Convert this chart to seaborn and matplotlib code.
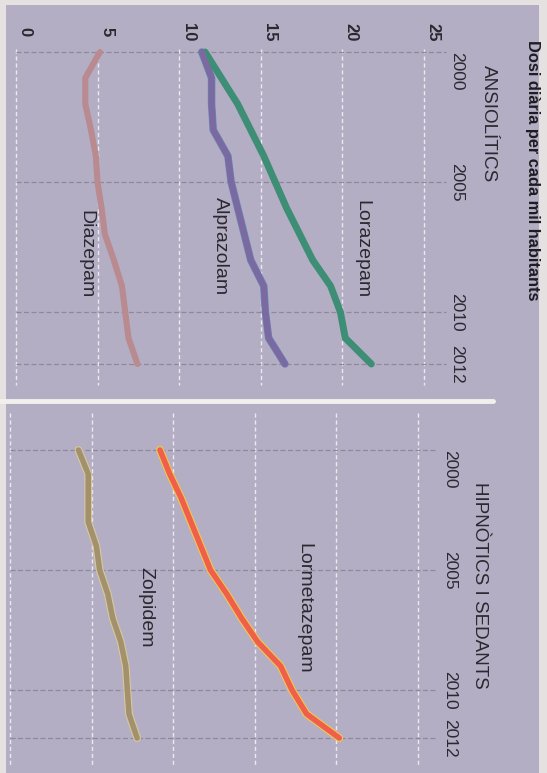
import matplotlib
matplotlib.use("Agg")
import matplotlib.pyplot as plt
import seaborn as sns
import pandas as pd
from matplotlib.patches import Rectangle
from matplotlib.lines import Line2D

# ---------------- data ----------------
years = list(range(2000, 2013))
lorazepam = [11.6, 12.6, 13.6, 14.4, 15.2, 15.9, 16.6, 17.4, 18.2, 19.3, 19.9, 20.2, 21.8]
alprazolam = [11.4, 12.0, 12.0, 12.1, 13.0, 13.2, 13.6, 14.0, 14.4, 15.2, 15.3, 15.5, 16.5]
diazepam = [5.15, 4.25, 4.25, 4.6, 4.9, 5.0, 5.25, 5.45, 6.0, 6.5, 6.7, 6.9, 7.45]
lormetazepam = [9.2, 9.8, 10.5, 11.1, 11.7, 12.3, 13.3, 14.2, 15.2, 16.6, 17.3, 18.2, 20.2]
zolpidem = [4.2, 4.8, 4.8, 4.8, 5.3, 5.5, 6.0, 6.3, 6.8, 7.1, 7.2, 7.3, 7.8]

value_ticks = [0, 5, 10, 15, 20, 25]
value_labels = ["0", "5", "10", "15", "20", "25"]
year_ticks = [2000, 2005, 2010, 2012]
year_labels = ["2000", "2005", "2010", "2012"]

title = "Dosi diària per cada mil habitants"
panel_titles = ["ANSIOLÍTICS", "HIPNÒTICS I SEDANTS"]

# ---------------- style ----------------
sns.set_style("white")
plt.rcParams["font.family"] = ["Liberation Sans Narrow", "Liberation Sans", "DejaVu Sans"]

PAPER = "#e4e1e0"
LAV = "#b4aec4"
TXT = "#2b2830"

fig = plt.figure(figsize=(5.47, 7.73), dpi=100, facecolor=PAPER)
fig.add_artist(Rectangle((6 / 547, 0), (539 - 6) / 547, (773 - 5) / 773,
                         transform=fig.transFigure, facecolor=LAV, edgecolor="none", zorder=0))

W, H = 547.0, 773.0

def make_ax(px_top, px_bot, x0px, pxv, y0px, pxy):
    ax = fig.add_axes([0, (H - px_bot) / H, 1, (px_bot - px_top) / H])
    ax.set_facecolor("none")
    ax.set_xlim(-x0px / pxv, (W - x0px) / pxv)
    ax.set_ylim(2000 + (px_bot - y0px) / pxy, 2000 - (y0px - px_top) / pxy)
    ax.axis("off")
    return ax

ax1 = make_ax(0, 398, 16, 16.3, 52, 26)
ax2 = make_ax(403, 773, 10, 16.3, 450, 24)

# grids
ax1.vlines(value_ticks, 1999.88, 2012.8, colors="#ebe8f0", linestyles=(0, (3, 2)), lw=1.0, zorder=1)
ax1.hlines(year_ticks, 0, 26.4, colors="#8e889c", linestyles=(0, (4, 2)), lw=0.9, zorder=1)
ax2.vlines(value_ticks, 1998.46, 2013.2, colors="#ebe8f0", linestyles=(0, (3, 2)), lw=1.0, zorder=1)
ax2.hlines(year_ticks, 0, 26.2, colors="#8e889c", linestyles=(0, (4, 2)), lw=0.9, zorder=1)

# separator
fig.add_artist(Line2D([0, 493 / W], [1 - 401 / H, 1 - 401 / H], transform=fig.transFigure,
                      color="#f2f0ec", lw=3.5, zorder=3))

# lines
top = pd.DataFrame({
    "year": years * 3,
    "value": lorazepam + alprazolam + diazepam,
    "drug": ["Lorazepam"] * 13 + ["Alprazolam"] * 13 + ["Diazepam"] * 13,
})
sns.lineplot(data=top[top.drug == "Alprazolam"], x="value", y="year", sort=False, orient="y",
             color="#6a84bc", lw=5.4, ax=ax1, legend=False, zorder=3)
sns.lineplot(data=top, x="value", y="year", hue="drug", sort=False, orient="y",
             palette={"Lorazepam": "#3e8e76", "Alprazolam": "#7a6aa0", "Diazepam": "#b98a8f"},
             lw=4.4, ax=ax1, legend=False, zorder=4)
for l in ax1.get_lines():
    if l.get_color() == "#3e8e76":
        l.set_linewidth(5.0)

bot = pd.DataFrame({
    "year": years * 2,
    "value": lormetazepam + zolpidem,
    "drug": ["Lormetazepam"] * 13 + ["Zolpidem"] * 13,
})
sns.lineplot(data=bot, x="value", y="year", hue="drug", sort=False, orient="y",
             palette={"Lormetazepam": "#f2c84a", "Zolpidem": "#d6c99a"},
             lw=5.6, ax=ax2, legend=False, zorder=3)
sns.lineplot(data=bot, x="value", y="year", hue="drug", sort=False, orient="y",
             palette={"Lormetazepam": "#ef5f4c", "Zolpidem": "#a3916e"},
             lw=4.0, ax=ax2, legend=False, zorder=4)

# value labels (top)
for v, lab in zip(value_ticks, value_labels):
    ax1.text(v + 0.1, 1999.23, lab, rotation=270, ha="left", va="center",
             fontsize=12, fontweight="bold", color=TXT, family=["Liberation Sans", "DejaVu Sans"])

# year labels
for ax, xv in ((ax1, 26.6), (ax2, 26.5)):
    for yv, lab in zip(year_ticks, year_labels):
        ax.text(xv, yv, lab, rotation=270, ha="left", va="top" if yv == 2000 else "center",
                fontsize=12.5, color=TXT, family=["Liberation Sans", "DejaVu Sans"])

# titles
ax1.text(31.2, 1999.54, title, rotation=270, ha="left", va="top", fontsize=11.8,
         fontweight="bold", color="#1e1c22")
ax1.text(28.47, 2000.5, panel_titles[0], rotation=270, ha="left", va="top", fontsize=13.6, color=TXT)
ax2.text(28.3, 2001.33, panel_titles[1], rotation=270, ha="left", va="top", fontsize=13.6, color=TXT)

# series labels
lab_kw = dict(rotation=270, ha="left", va="top", fontsize=14, color=TXT)
ax1.text(20.7, 2005.69, "Lorazepam", **lab_kw)
ax1.text(12.0, 2005.58, "Alprazolam", **lab_kw)
ax1.text(3.75, 2006.08, "Diazepam", **lab_kw)
ax2.text(17.5, 2003.87, "Lormetazepam", **lab_kw)
ax2.text(7.8, 2004.87, "Zolpidem", **lab_kw)

fig.savefig("out.png", dpi=100, facecolor=PAPER)
